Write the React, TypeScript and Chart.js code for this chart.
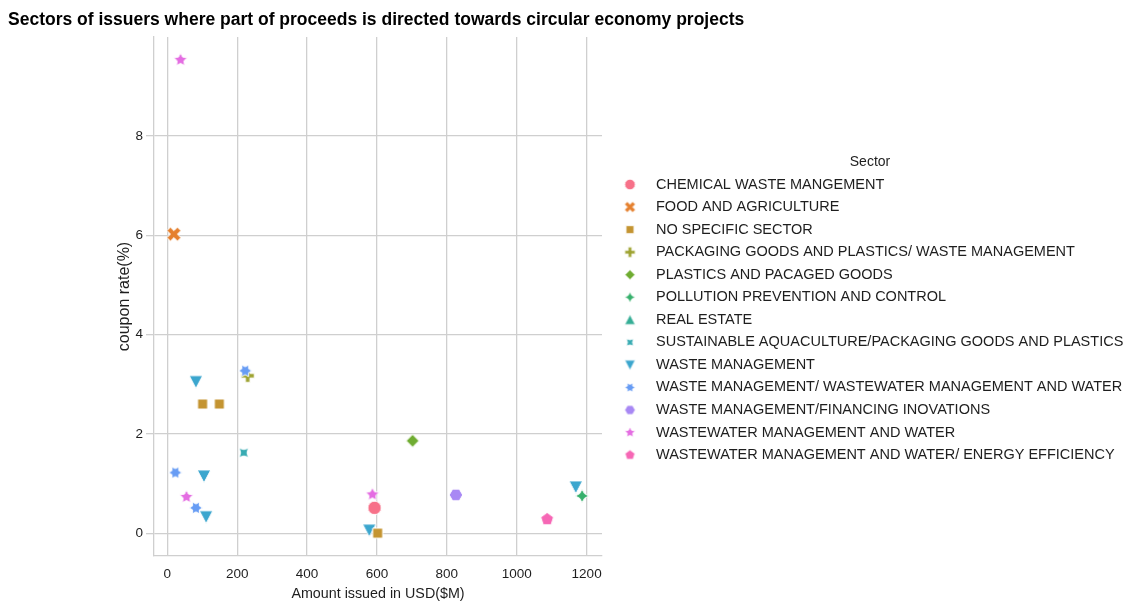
import React, { useEffect, useRef } from "react";
import { Chart, registerables } from "chart.js";

Chart.register(...registerables);

const TITLE = "Sectors of issuers where part of proceeds is directed towards circular economy projects";
const X_LABEL = "Amount issued in USD($M)";
const Y_LABEL = "coupon rate(%)";
const LEGEND_TITLE = "Sector";

const SECTORS = [
  "CHEMICAL WASTE MANGEMENT",
  "FOOD AND AGRICULTURE",
  "NO SPECIFIC SECTOR",
  "PACKAGING GOODS AND PLASTICS/ WASTE MANAGEMENT",
  "PLASTICS AND PACAGED GOODS",
  "POLLUTION PREVENTION AND CONTROL",
  "REAL ESTATE",
  "SUSTAINABLE AQUACULTURE/PACKAGING GOODS AND PLASTICS",
  "WASTE MANAGEMENT",
  "WASTE MANAGEMENT/ WASTEWATER MANAGEMENT AND WATER",
  "WASTE MANAGEMENT/FINANCING INOVATIONS",
  "WASTEWATER MANAGEMENT AND WATER",
  "WASTEWATER MANAGEMENT AND WATER/ ENERGY EFFICIENCY",
];

// amount issued (USD $M) per sector
const AMOUNT_ISSUED: number[][] = [
  [593],
  [19],
  [101, 149, 602],
  [230],
  [702],
  [1187],
  [],
  [219],
  [82, 105, 111, 578, 1169],
  [223, 23, 82],
  [826],
  [38, 55, 587],
  [1087],
];

// coupon rate (%) per sector
const COUPON_RATE: number[][] = [
  [0.51],
  [6.02],
  [2.6, 2.6, 0.0],
  [3.17],
  [1.86],
  [0.75],
  [],
  [1.62],
  [3.05, 1.15, 0.33, 0.06, 0.93],
  [3.27, 1.22, 0.51],
  [0.77],
  [9.53, 0.73, 0.78],
  [0.28],
];

const X_TICKS = [0, 200, 400, 600, 800, 1000, 1200];
const Y_TICKS = [0, 2, 4, 6, 8];

const COLORS = [
  "#f77189",
  "#e5802e",
  "#c49431",
  "#9ea331",
  "#6fac31",
  "#37b06c",
  "#35ae96",
  "#37abb2",
  "#3ba6ce",
  "#679cf4",
  "#a888f4",
  "#e46de2",
  "#f667b5",
];

const MARKERS = [
  "circle",
  "xfilled",
  "square",
  "plusfilled",
  "diamond",
  "star4",
  "triangleUp",
  "star4rot",
  "triangleDown",
  "star6",
  "hexagon",
  "star5",
  "pentagon",
];

type Ctx = CanvasRenderingContext2D;

function polyPath(ctx: Ctx, pts: [number, number][]) {
  ctx.moveTo(pts[0][0], pts[0][1]);
  for (let i = 1; i < pts.length; i++) ctx.lineTo(pts[i][0], pts[i][1]);
  ctx.closePath();
}

function regularPolygon(n: number, r: number, angleDeg: number): [number, number][] {
  const pts: [number, number][] = [];
  for (let i = 0; i < n; i++) {
    const t = ((90 + angleDeg + (i * 360) / n) * Math.PI) / 180;
    pts.push([r * Math.cos(t), -r * Math.sin(t)]);
  }
  return pts;
}

function regularStar(n: number, r: number, inner: number, angleDeg: number): [number, number][] {
  const pts: [number, number][] = [];
  for (let i = 0; i < 2 * n; i++) {
    const rr = i % 2 === 0 ? r : r * inner;
    const t = ((90 + angleDeg + (i * 180) / n) * Math.PI) / 180;
    pts.push([rr * Math.cos(t), -rr * Math.sin(t)]);
  }
  return pts;
}

function plusPts(r: number, rotDeg: number): [number, number][] {
  const base: [number, number][] = [
    [-1, -3], [1, -3], [1, -1], [3, -1], [3, 1], [1, 1],
    [1, 3], [-1, 3], [-1, 1], [-3, 1], [-3, -1], [-1, -1],
  ];
  const a = (rotDeg * Math.PI) / 180;
  return base.map(([x, y]) => {
    const sx = (x / 3) * r;
    const sy = (y / 3) * r;
    return [sx * Math.cos(a) - sy * Math.sin(a), sx * Math.sin(a) + sy * Math.cos(a)];
  });
}

function makeMarker(shape: string, color: string, size: number, edge: number): HTMLCanvasElement {
  const pad = 2;
  const dim = Math.ceil(size + pad * 2);
  const c = document.createElement("canvas");
  c.width = dim;
  c.height = dim;
  const ctx = c.getContext("2d") as Ctx;
  ctx.translate(dim / 2, dim / 2);
  const r = size / 2;
  ctx.beginPath();
  switch (shape) {
    case "circle":
      ctx.arc(0, 0, r, 0, Math.PI * 2);
      break;
    case "xfilled":
      polyPath(ctx, plusPts(r * 1.1, 45));
      break;
    case "square":
      polyPath(ctx, regularPolygon(4, r * 1.05, 45));
      break;
    case "plusfilled":
      polyPath(ctx, plusPts(r, 0));
      break;
    case "diamond":
      polyPath(ctx, regularPolygon(4, r * 0.95, 0));
      break;
    case "star4":
      polyPath(ctx, regularStar(4, r, 0.5, 0));
      break;
    case "triangleUp":
      polyPath(ctx, [[0, -r], [-r, r * 0.9], [r, r * 0.9]]);
      break;
    case "star4rot":
      polyPath(ctx, regularStar(4, r * 0.95, 0.5, 45));
      break;
    case "triangleDown":
      polyPath(ctx, [[0, r], [-r, -r * 0.9], [r, -r * 0.9]]);
      break;
    case "star6":
      polyPath(ctx, regularStar(6, r, 0.58, 30));
      break;
    case "hexagon":
      polyPath(ctx, regularPolygon(6, r, 30));
      break;
    case "star5":
      polyPath(ctx, regularStar(5, r * 1.05, 0.5, 0));
      break;
    case "pentagon":
      polyPath(ctx, regularPolygon(5, r, 0));
      break;
  }
  ctx.fillStyle = color;
  ctx.fill();
  ctx.strokeStyle = "#ffffff";
  ctx.lineWidth = edge;
  ctx.stroke();
  return c;
}

const FONT = "'Liberation Sans', Arial, Helvetica, sans-serif";
const TEXT_COLOR = "#1e1e1e";
const GRID_COLOR = "#cfcfcf";

export default function App() {
  const canvasRef = useRef<HTMLCanvasElement | null>(null);

  useEffect(() => {
    if (!canvasRef.current) return;

    const dataMarkers = SECTORS.map((_, i) => makeMarker(MARKERS[i], COLORS[i], 13.5, 1));
    const legendMarkers = SECTORS.map((_, i) => makeMarker(MARKERS[i], COLORS[i], 10.5, 0.8));

    const datasets = SECTORS.map((name, i) => ({
      label: name,
      data: AMOUNT_ISSUED[i].map((x, j) => ({ x, y: COUPON_RATE[i][j] })),
      pointStyle: dataMarkers[i] as any,
      pointRadius: 6,
      pointHoverRadius: 6,
      backgroundColor: COLORS[i],
      borderColor: COLORS[i],
      showLine: false,
      order: i === 9 ? -1 : i,
    }));

    const overlay = {
      id: "overlay",
      afterDraw(chart: any) {
        const ctx: Ctx = chart.ctx;
        ctx.save();
        // figure title
        ctx.fillStyle = "#000000";
        ctx.font = `bold 17.5px ${FONT}`;
        ctx.textAlign = "left";
        ctx.textBaseline = "middle";
        ctx.fillText(TITLE, 8, 20);

        // legend
        ctx.fillStyle = TEXT_COLOR;
        ctx.font = `14px ${FONT}`;
        ctx.textAlign = "center";
        ctx.fillText(LEGEND_TITLE, 870, 162);
        ctx.font = `14.5px ${FONT}`;
        ctx.textAlign = "left";
        SECTORS.forEach((name, i) => {
          const y = 184.5 + i * 22.55;
          const m = legendMarkers[i];
          ctx.drawImage(m, 630 - m.width / 2, y - m.height / 2);
          ctx.fillStyle = TEXT_COLOR;
          ctx.fillText(name, 656, y);
        });
        ctx.restore();
      },
    };

    const chart = new Chart(canvasRef.current, {
      type: "scatter",
      data: { datasets },
      options: {
        animation: false,
        responsive: false,
        devicePixelRatio: 1,
        layout: { padding: { left: 110, top: 37, right: 527, bottom: 0 } },
        plugins: {
          legend: { display: false },
          title: { display: false },
          tooltip: { enabled: false },
        },
        scales: {
          x: {
            type: "linear",
            min: -38,
            max: 1244,
            afterFit: (s: any) => {
              s.height = 50;
            },
            afterBuildTicks: (s: any) => {
              s.ticks = X_TICKS.map((v) => ({ value: v }));
            },
            ticks: {
              color: TEXT_COLOR,
              font: { family: FONT, size: 13.5 },
              padding: 10,
              maxRotation: 0,
              includeBounds: false,
              callback: (v: any) => String(v),
            },
            grid: { color: GRID_COLOR, lineWidth: 1.3, drawTicks: false },
            border: { display: true, color: GRID_COLOR, width: 1.3 },
            title: {
              display: true,
              text: X_LABEL,
              color: TEXT_COLOR,
              font: { family: FONT, size: 14.3 },
              padding: { top: 0, bottom: 3 },
            },
          },
          y: {
            type: "linear",
            min: -0.46,
            max: 9.99,
            afterFit: (s: any) => {
              s.width = 44;
            },
            afterBuildTicks: (s: any) => {
              s.ticks = Y_TICKS.map((v) => ({ value: v }));
            },
            ticks: {
              color: TEXT_COLOR,
              font: { family: FONT, size: 13.5 },
              padding: 3,
              includeBounds: false,
              callback: (v: any) => String(v),
            },
            grid: { color: GRID_COLOR, lineWidth: 1.3, drawTicks: true, tickLength: 8, tickColor: GRID_COLOR },
            border: { display: true, color: GRID_COLOR, width: 1.3 },
            title: {
              display: true,
              text: Y_LABEL,
              color: TEXT_COLOR,
              font: { family: FONT, size: 16 },
              padding: { top: 5, bottom: 0 },
            },
          },
        },
      },
      plugins: [overlay],
    });

    return () => {
      chart.destroy();
    };
  }, []);

  return (
    <div style={{ position: "absolute", left: 0, top: 0, width: 1129, height: 606, background: "#ffffff" }}>
      <canvas ref={canvasRef} width={1129} height={606} />
    </div>
  );
}
